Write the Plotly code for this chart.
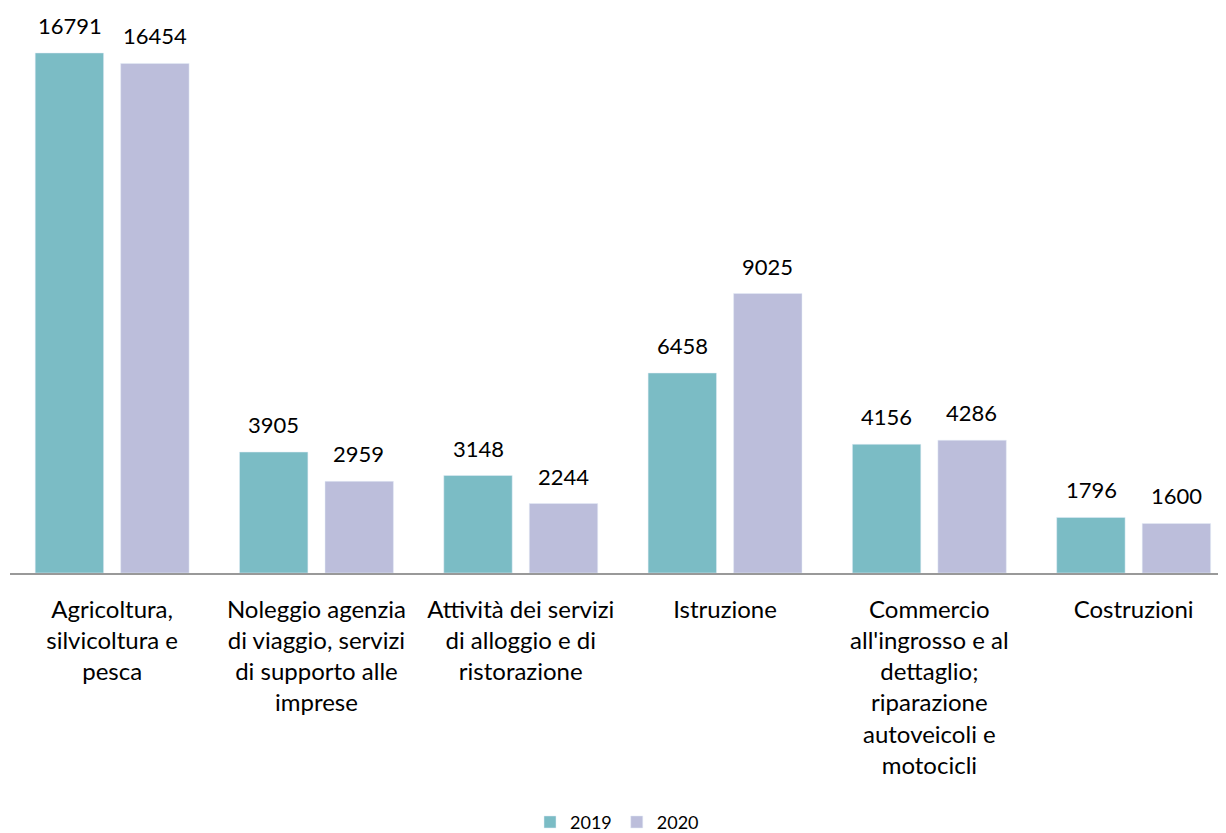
import plotly.graph_objects as go

categories = [
    "Agricoltura,<br>silvicoltura e<br>pesca",
    "Noleggio agenzia<br>di viaggio, servizi<br>di supporto alle<br>imprese",
    "Attività dei servizi<br>di alloggio e di<br>ristorazione",
    "Istruzione",
    "Commercio<br>all'ingrosso e al<br>dettaglio;<br>riparazione<br>autoveicoli e<br>motocicli",
    "Costruzioni",
]
values_2019 = [16791, 3905, 3148, 6458, 4156, 1796]
values_2020 = [16454, 2959, 2244, 9025, 4286, 1600]

FONT = "Lato, Noto Sans, sans-serif"
COLOR_2019 = "#7BBCC5"
COLOR_2020 = "#BCBEDB"

fig = go.Figure()
fig.add_trace(go.Bar(x=categories, y=values_2019, name="2019", marker_color=COLOR_2019))
fig.add_trace(go.Bar(x=categories, y=values_2020, name="2020", marker_color=COLOR_2020))

# value labels above each bar (half a bar slot left/right of the category centre)
for cat, v19, v20 in zip(categories, values_2019, values_2020):
    for val, shift in ((v19, -42.5), (v20, 42.5)):
        fig.add_annotation(
            x=cat, y=val, text=str(val), showarrow=False,
            xshift=shift, yshift=12, yanchor="bottom",
            font=dict(size=22, color="#000000"),
        )

# page body has an 8px margin, so the figure is 8px smaller than the window
fig.update_layout(
    width=1218, height=825,
    margin=dict(l=2, r=0, t=12, b=260),
    plot_bgcolor="white", paper_bgcolor="white",
    font=dict(family=FONT, color="#000000"),
    barmode="group",
    bargap=0.163,
    bargroupgap=0.2,
    showlegend=True,
    legend=dict(
        orientation="h",
        xref="container", yref="container",
        x=0.5, xanchor="center",
        y=0.013, yanchor="middle",
        font=dict(size=18),
    ),
)
fig.update_xaxes(
    range=[-0.5, 5.452],
    showline=True, linecolor="#999999", linewidth=2,
    tickfont=dict(size=24),
    ticks="",
    ticklabelstandoff=14,
    automargin=False,
)
fig.update_yaxes(
    range=[0, 17856], visible=False, showgrid=False, zeroline=False,
)

fig.write_html("out.html")
